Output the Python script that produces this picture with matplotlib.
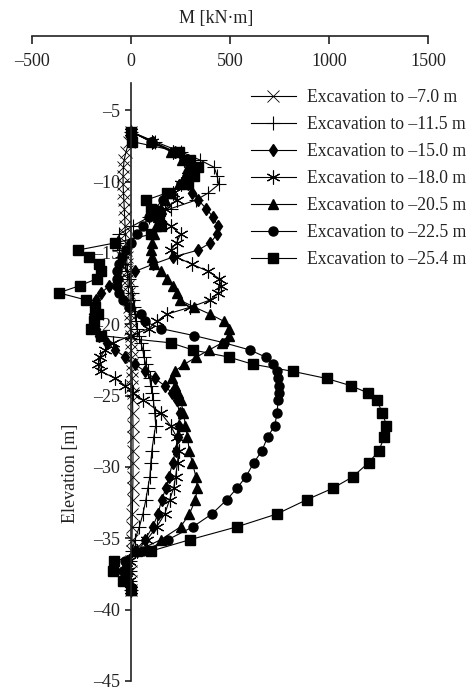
import matplotlib
matplotlib.use("Agg")
import matplotlib.pyplot as plt

plt.rcParams['font.family'] = ['Liberation Serif', 'DejaVu Serif']

# Elevation nodes along the wall [m]
elevation = [-6.5, -7.2, -7.9, -8.5, -9.0, -9.6, -10.2, -10.8, -11.3, -11.9,
             -12.5, -13.1, -13.7, -14.3, -14.8, -15.3, -15.8, -16.3, -16.8, -17.3,
             -17.8, -18.3, -18.8, -19.3, -19.8, -20.3, -20.8, -21.3, -21.8, -22.3,
             -22.8, -23.3, -23.8, -24.3, -24.8, -25.3, -26.2, -27.1, -27.9, -28.9,
             -29.7, -30.7, -31.5, -32.3, -33.3, -34.2, -35.1, -35.9, -36.6, -37.3,
             -38.0, -38.6]

# Bending moment M [kN·m] for each excavation stage
m_7_0 = [0, -10, -25, -35, -38, -40, -40, -38, -36, -34,
         -32, -30, -28, -26, -24, -22, -20, -18, -16, -14,
         -12, -10, -8, -6, -4, -3, -2, 0, 2, 3,
         4, 5, 6, 7, 8, 8, 9, 10, 10, 10,
         10, 10, 9, 8, 7, 6, 5, 3, 1, 0,
         0, 0]
m_11_5 = [0, 120, 250, 350, 420, 435, 443, 390, 328, 200,
          90, 10, -60, -70, -60, -45, -30, -20, -10, 0,
          5, 10, 15, 20, 25, 30, 40, 50, 60, 65,
          75, 85, 95, 100, 108, 113, 120, 125, 115, 105,
          100, 95, 85, 75, 60, 42, 20, 5, -5, -5,
          -3, 0]
m_15_0 = [0, 110, 220, 290, 320, 310, 290, 310, 340, 380,
          415, 438, 435, 400, 340, 210, 110, 20, -60, -110,
          -150, -175, -185, -190, -185, -175, -160, -120, -80, -30,
          20, 70, 120, 170, 205, 230, 245, 242, 235, 225,
          210, 192, 176, 155, 136, 110, 70, 20, -20, -20,
          -10, 0]
m_18_0 = [0, 105, 210, 270, 300, 290, 250, 210, 230, 170,
          140, 200, 250, 230, 200, 230, 310, 390, 445, 455,
          440, 400, 300, 180, 130, 90, 0, -90, -130, -155,
          -165, -150, -80, -30, 10, 60, 150, 200, 230, 240,
          235, 225, 215, 195, 170, 130, 80, 30, -10, -15,
          -8, 0]
m_20_5 = [0, 100, 200, 260, 290, 275, 240, 200, 170, 150,
          135, 125, 115, 105, 100, 105, 115, 150, 180, 210,
          230, 245, 320, 400, 470, 495, 495, 460, 395, 330,
          270, 220, 205, 220, 235, 250, 265, 275, 285, 295,
          310, 328, 335, 325, 295, 250, 150, 30, -20, -20,
          -10, 0]
m_22_5 = [0, 100, 210, 270, 300, 285, 250, 200, 160, 120,
          90, 60, 30, 0, -25, -45, -60, -70, -72, -70,
          -60, -40, -10, 50, 70, 150, 320, 470, 600, 680,
          715, 735, 742, 745, 745, 743, 738, 726, 690, 660,
          620, 580, 534, 484, 408, 312, 186, 60, -30, -40,
          -20, 0]
m_25_4 = [0, 5, 242, 300, 338, 320, 287, 180, 76, 100,
          140, 150, 100, -80, -268, -210, -160, -150, -170, -260,
          -365, -227, -180, -166, -185, -200, -151, 200, 312, 494,
          614, 817, 988, 1109, 1195, 1240, 1270, 1290, 1280, 1250,
          1200, 1119, 1018, 887, 736, 534, 297, 100, -84, -90,
          -40, 0]

labels = ['Excavation to \u20137.0 m', 'Excavation to \u201311.5 m',
          'Excavation to \u201315.0 m', 'Excavation to \u201318.0 m',
          'Excavation to \u201320.5 m', 'Excavation to \u201322.5 m',
          'Excavation to \u201325.4 m']

x_ticks = [-500, 0, 500, 1000, 1500]
x_tick_labels = ['\u2013500', '0', '500', '1000', '1500']
y_ticks = [-5, -10, -15, -20, -25, -30, -35, -40, -45]
y_tick_labels = ['\u20135', '\u201310', '\u201315', '\u201320', '\u201325',
                 '\u201330', '\u201335', '\u201340', '\u201345']

series = [m_7_0, m_11_5, m_15_0, m_18_0, m_20_5, m_22_5, m_25_4]
styles = [
    dict(marker='x', markersize=8, markeredgewidth=0.6),
    dict(marker='+', markersize=10, markeredgewidth=0.8),
    dict(marker='d', markersize=6.5),
    dict(marker=(6, 2, 0), markersize=10, markeredgewidth=0.8),
    dict(marker='^', markersize=7),
    dict(marker='o', markersize=6.5),
    dict(marker='s', markersize=7),
]

W, H = 472, 691
fig = plt.figure(figsize=(W / 100, H / 100), dpi=100)
ax = fig.add_axes([32 / W, 10 / H, 396 / W, (681 - 36) / H])

for vals, lab, st in zip(series, labels, styles):
    ax.plot(vals, elevation, color='black', lw=0.8, label=lab,
            markerfacecolor='black', markeredgecolor='black', clip_on=False, **st)

ax.set_xlim(-500, 1500)
ax.set_ylim(-45, 0.2)

for s in ['top', 'right']:
    ax.spines[s].set_visible(False)
ax.spines['bottom'].set_position(('axes', 1.0))
ax.spines['left'].set_position(('data', 0))
ax.spines['left'].set_bounds(-45, -3.1)
for s in ['bottom', 'left']:
    ax.spines[s].set_linewidth(1.2)
    ax.spines[s].set_color('#222222')

ax.set_xticks(x_ticks)
ax.set_xticklabels(x_tick_labels)
ax.set_yticks(y_ticks)
ax.set_yticklabels(y_tick_labels)
ax.tick_params(axis='x', direction='out', length=5.5, width=1.2, pad=7,
               labelsize=13, colors='#222222')
ax.tick_params(axis='y', direction='out', length=4.5, width=1.2, pad=3.5,
               labelsize=13, colors='#222222')

fig.text(216 / W, 1 - 19 / H, 'M [kN\u00b7m]', ha='center', va='center',
         fontsize=13, color='#222222')
fig.text(70 / W, 1 - 473 / H, 'Elevation [m]', ha='center', va='center',
         rotation=90, fontsize=13, color='#222222')

leg = ax.legend(loc='upper left', bbox_to_anchor=(251 / W, 1 - 89 / H),
                bbox_transform=fig.transFigure, frameon=False, fontsize=12.7,
                handlelength=2.55, handletextpad=0.62, labelspacing=0.57,
                borderpad=0, borderaxespad=0)
for t in leg.get_texts():
    t.set_color('#222222')

fig.savefig('out.png', dpi=100)
